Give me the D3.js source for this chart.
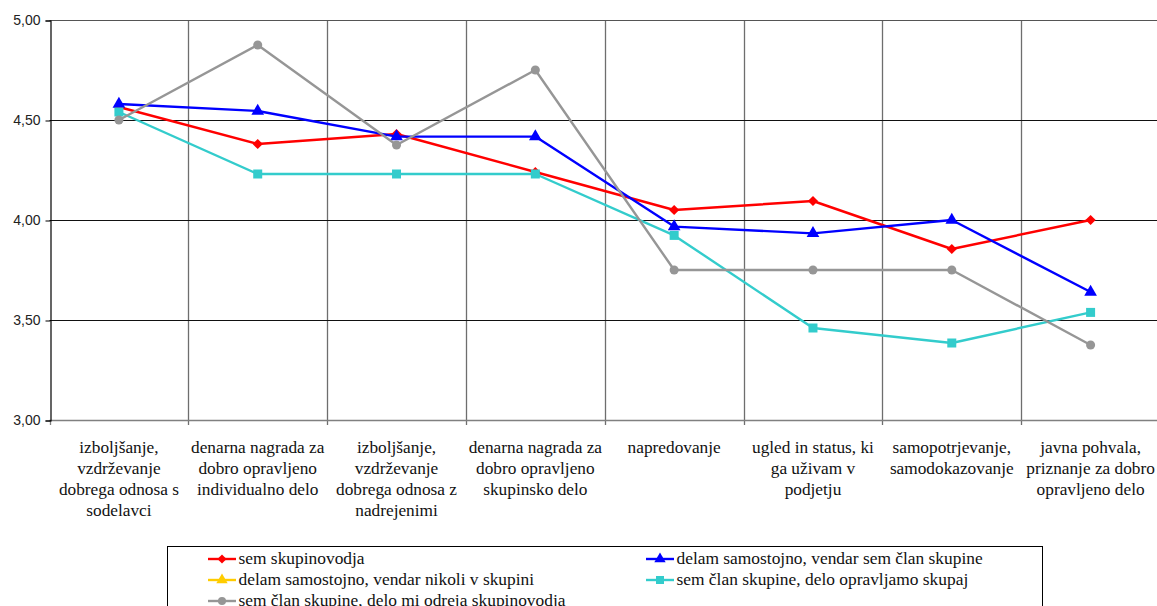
<!DOCTYPE html>
<html>
<head>
<meta charset="utf-8">
<script src="https://cdn.jsdelivr.net/npm/d3@7"></script>
<style>
  html, body { margin: 0; padding: 0; background: #fff; overflow: hidden; }
  svg { display: block; }
  .serif { font-family: 'Liberation Serif', 'DejaVu Serif', serif; }
  .sans { font-family: 'Liberation Sans', Arial, sans-serif; }
</style>
</head>
<body>
<svg id="chart" width="1157" height="606"></svg>
<script>
const categories = [
  'izboljšanje,\nvzdrževanje\ndobrega odnosa s\nsodelavci',
  'denarna nagrada za\ndobro opravljeno\nindividualno delo',
  'izboljšanje,\nvzdrževanje\ndobrega odnosa z\nnadrejenimi',
  'denarna nagrada za\ndobro opravljeno\nskupinsko delo',
  'napredovanje',
  'ugled in status, ki\nga uživam v\npodjetju',
  'samopotrjevanje,\nsamodokazovanje',
  'javna pohvala,\npriznanje za dobro\nopravljeno delo'
];

const yTicks = [3, 3.5, 4, 4.5, 5];

// average scores per group
const skupinovodja = [4.565, 4.38, 4.43, 4.24, 4.05, 4.095, 3.855, 4.00];
const samostojnoClan = [4.58, 4.545, 4.417, 4.417, 3.967, 3.933, 4.00, 3.64];
const samostojnoNikoli = [];
const skupajDelo = [4.54, 4.23, 4.23, 4.23, 3.923, 3.46, 3.385, 3.538];
const odrejaVodja = [4.50, 4.875, 4.375, 4.75, 3.75, 3.75, 3.75, 3.375];

const series = [
  { name: 'sem skupinovodja', values: skupinovodja, color: '#ff0000', shape: 'diamond' },
  { name: 'delam samostojno, vendar sem član skupine', values: samostojnoClan, color: '#0000ff', shape: 'triangle' },
  { name: 'delam samostojno, vendar nikoli v skupini', values: samostojnoNikoli, color: '#ffcc00', shape: 'triangle' },
  { name: 'sem član skupine, delo opravljamo skupaj', values: skupajDelo, color: '#33cccc', shape: 'square' },
  { name: 'sem član skupine, delo mi odreja skupinovodja', values: odrejaVodja, color: '#969696', shape: 'circle' }
];

const svg = d3.select('#chart');

const x = d3.scaleBand().domain(d3.range(categories.length)).range([49.5, 1160]).padding(0);
const y = d3.scaleLinear().domain([3, 5]).range([420, 20]);
const bw = x.bandwidth();
const cx = (i) => x(i) + bw / 2;

// vertical grid lines at category boundaries
const bounds = d3.range(1, categories.length + 1).map((i) => x(0) + i * bw);
svg.append('g')
  .selectAll('line')
  .data(bounds)
  .join('line')
  .attr('x1', (d) => Math.round(d) + 0.5)
  .attr('x2', (d) => Math.round(d) + 0.5)
  .attr('y1', y(5))
  .attr('y2', y(3) + 5)
  .attr('stroke', '#6e6e6e')
  .attr('stroke-width', 1.3);

// horizontal grid lines
svg.append('g')
  .selectAll('line')
  .data(yTicks.filter((d) => d > 3))
  .join('line')
  .attr('x1', x(0))
  .attr('x2', 1160)
  .attr('y1', (d) => y(d) + 0.5)
  .attr('y2', (d) => y(d) + 0.5)
  .attr('stroke', (d) => (d === 5 ? '#555' : '#111'))
  .attr('stroke-width', 1.2);

// bottom axis
svg.append('line')
  .attr('x1', x(0)).attr('x2', 1160)
  .attr('y1', y(3) + 0.5).attr('y2', y(3) + 0.5)
  .attr('stroke', '#808080').attr('stroke-width', 1.5);
svg.append('line')
  .attr('x1', Math.round(x(0)) + 0.5).attr('x2', Math.round(x(0)) + 0.5)
  .attr('y1', y(3) + 5).attr('y2', y(3))
  .attr('stroke', '#808080').attr('stroke-width', 1.3);

// left axis
const yAxis = d3.axisLeft(y)
  .tickValues(yTicks)
  .tickSize(5)
  .tickPadding(5)
  .tickFormat((d) => d3.format('.2f')(d).replace('.', ','));
const gy = svg.append('g')
  .attr('transform', `translate(${Math.round(x(0)) + 0.5},0.5)`)
  .call(yAxis);
gy.attr('font-family', null).attr('font-size', null);
gy.select('.domain').attr('stroke', '#000').attr('stroke-width', 1.2);
gy.selectAll('.tick line').attr('stroke', '#000');
gy.selectAll('.tick text')
  .attr('class', 'sans')
  .attr('fill', '#222')
  .style('font-size', '14px');

// category labels
const catG = svg.append('g')
  .attr('class', 'serif')
  .style('font-size', '17.3px')
  .attr('fill', '#111')
  .attr('text-anchor', 'middle');
categories.forEach((c, i) => {
  const t = catG.append('text').attr('x', cx(i)).attr('y', 453);
  c.split('\n').forEach((line, k) => {
    t.append('tspan').attr('x', cx(i)).attr('y', 453 + k * 21).text(line);
  });
});

const symbolFor = (shape, big) => {
  const s = big ? 1 : 0.8;
  if (shape === 'diamond') return { type: d3.symbolSquare, size: 52 * s, rotate: 45 };
  if (shape === 'triangle') return { type: d3.symbolTriangle, size: 70 * s, rotate: 0 };
  if (shape === 'square') return { type: d3.symbolSquare, size: 81 * s, rotate: 0 };
  return { type: d3.symbolCircle, size: 64 * s, rotate: 0 };
};

const line = d3.line()
  .x((d, i) => cx(i))
  .y((d) => y(d));

series.forEach((s) => {
  if (!s.values.length) return;
  const g = svg.append('g');
  g.append('path')
    .datum(s.values)
    .attr('d', line)
    .attr('fill', 'none')
    .attr('stroke', s.color)
    .attr('stroke-width', 2.4)
    .attr('stroke-linejoin', 'round');
  const sym = symbolFor(s.shape, true);
  g.selectAll('path.m')
    .data(s.values)
    .join('path')
    .attr('class', 'm')
    .attr('d', d3.symbol().type(sym.type).size(sym.size))
    .attr('transform', (d, i) => `translate(${cx(i)},${y(d)}) rotate(${sym.rotate})`)
    .attr('fill', s.color);
});

// legend
const legend = svg.append('g');
legend.append('rect')
  .attr('x', 167.5).attr('y', 546.5)
  .attr('width', 875).attr('height', 80)
  .attr('fill', '#fff')
  .attr('stroke', '#000')
  .attr('stroke-width', 1);

const colX = [208, 646];
series.forEach((s, i) => {
  const lx = colX[i % 2];
  const ly = 559 + Math.floor(i / 2) * 21;
  const item = legend.append('g');
  item.append('line')
    .attr('x1', lx).attr('x2', lx + 28)
    .attr('y1', ly).attr('y2', ly)
    .attr('stroke', s.color).attr('stroke-width', 2.4);
  const sym = symbolFor(s.shape, false);
  item.append('path')
    .attr('d', d3.symbol().type(sym.type).size(sym.size))
    .attr('transform', `translate(${lx + 14},${ly}) rotate(${sym.rotate})`)
    .attr('fill', s.color);
  item.append('text')
    .attr('class', 'serif')
    .attr('x', lx + 30.5)
    .attr('y', ly + 5)
    .attr('fill', '#111')
    .style('font-size', '17.4px')
    .text(s.name);
});
</script>
</body>
</html>
